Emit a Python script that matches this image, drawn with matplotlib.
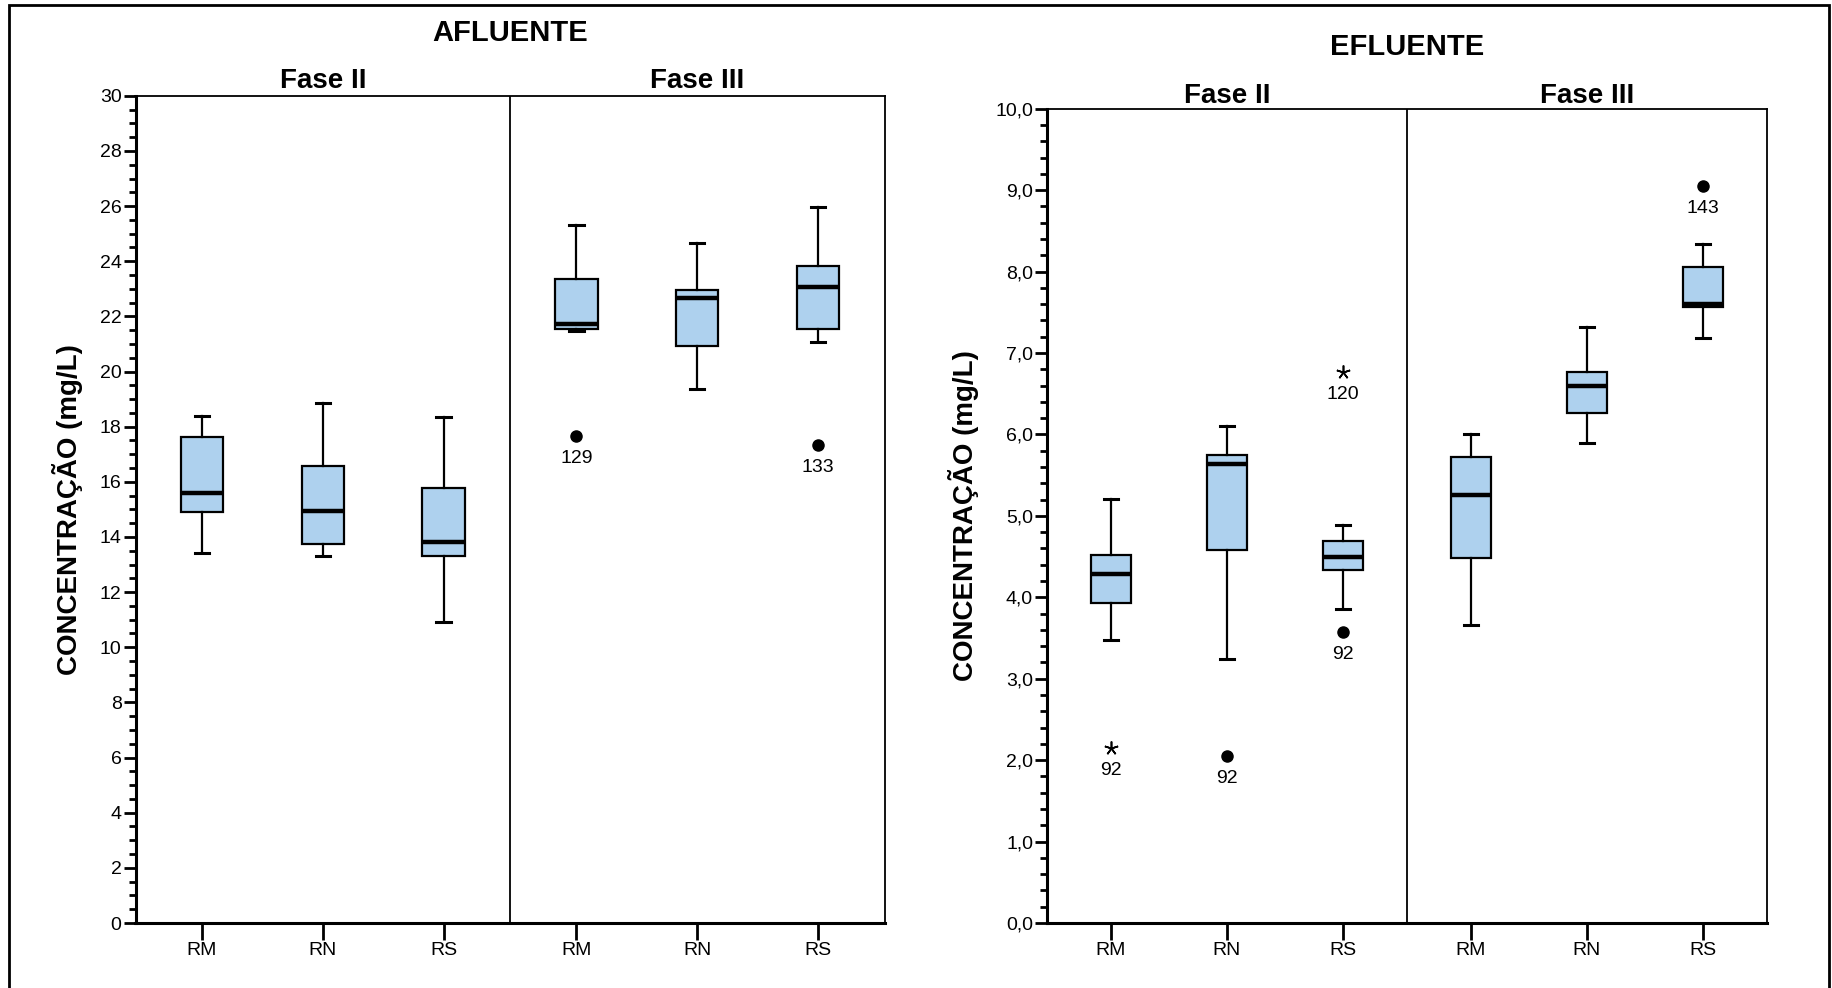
import matplotlib
matplotlib.use("Agg")
import matplotlib.pyplot as plt
from matplotlib import font_manager
from matplotlib.patches import Rectangle
import numpy as np

names = {f.name for f in font_manager.fontManager.ttflist}
NARROW = "Liberation Sans Narrow" if "Liberation Sans Narrow" in names else "Liberation Sans"
WIDE = "Liberation Sans"

categories = ["RM", "RN", "RS", "RM", "RN", "RS"]
phases = ["Fase II", "Fase III"]

# AFLUENTE stats: (low whisker, Q1, median, Q3, high whisker)
afl_low = [13.43, 13.31, 10.93, 21.48, 19.36, 21.06]
afl_q1 = [14.92, 13.73, 13.31, 21.53, 20.93, 21.53]
afl_med = [15.59, 14.96, 13.81, 21.74, 22.67, 23.05]
afl_q3 = [17.63, 16.57, 15.76, 23.35, 22.97, 23.81]
afl_high = [18.39, 18.86, 18.35, 25.30, 24.66, 25.97]
afl_out_idx = [3, 5]
afl_out_val = [17.67, 17.33]
afl_out_lab = ["129", "133"]
afl_out_kind = ["o", "o"]

# EFLUENTE stats
efl_low = [3.47, 3.24, 3.86, 3.66, 5.90, 7.19]
efl_q1 = [3.93, 4.58, 4.33, 4.48, 6.26, 7.56]
efl_med = [4.28, 5.64, 4.49, 5.25, 6.59, 7.60]
efl_q3 = [4.52, 5.75, 4.69, 5.72, 6.77, 8.06]
efl_high = [5.21, 6.10, 4.89, 6.00, 7.32, 8.34]
efl_out_idx = [0, 1, 2, 2, 5]
efl_out_val = [2.15, 2.05, 3.57, 6.77, 9.05]
efl_out_lab = ["92", "92", "92", "120", "143"]
efl_out_kind = ["*", "o", "o", "*", "o"]

BOX_COLOR = "#AED1EE"

# layout: each phase group holds 3 categories with a gap between groups
GROUP_GAP = 0.1
positions = np.array([i + (GROUP_GAP if i >= 3 else 0.0) for i in range(len(categories))])
XMIN, XMAX = -0.55, positions[-1] + 0.55
DIVIDER = 2.5 + GROUP_GAP / 2

fig = plt.figure(figsize=(18.32, 9.88), dpi=100)
W, H = 1832, 988

def px_axes(x0, y0, x1, y1):
    return fig.add_axes([x0 / W, 1 - y1 / H, (x1 - x0) / W, (y1 - y0) / H])

def draw_panel(ax, low, q1, med, q3, high, oidx, oval, olab, okind, ymax, major, minor, fmt,
               title, title_y, phase_y):
    stats = []
    for i in range(len(categories)):
        stats.append(dict(whislo=low[i], q1=q1[i], med=med[i], q3=q3[i], whishi=high[i], fliers=[]))
    ax.bxp(stats, positions=positions, widths=0.35, patch_artist=True,
           showfliers=False,
           boxprops=dict(facecolor=BOX_COLOR, edgecolor="black", linewidth=1.6),
           medianprops=dict(color="black", linewidth=3.2),
           whiskerprops=dict(color="black", linewidth=1.6),
           capprops=dict(color="black", linewidth=2.2),
           capwidths=0.12)
    for i, v, l, k in zip(oidx, oval, olab, okind):
        p = positions[i]
        if k == "o":
            ax.plot(p, v, "o", color="black", markersize=8)
        else:
            ax.plot(p, v, marker=(5, 2, 0), color="black", markersize=10, markeredgewidth=1.2)
        ax.annotate(l, (p, v), xytext=(0, -10), textcoords="offset points", ha="center", va="top",
                    fontsize=14, family=NARROW)
    ax.set_xlim(XMIN, XMAX)
    ax.set_ylim(0, ymax)
    ax.axvline(DIVIDER, color="black", linewidth=1.3)
    ax.set_xticks(positions)
    ax.set_xticklabels(categories, family=NARROW, fontsize=14)
    ax.set_yticks(np.arange(0, ymax + 1e-9, major))
    ax.set_yticks(np.arange(0, ymax + 1e-9, minor), minor=True)
    ax.set_yticklabels([fmt(v) for v in np.arange(0, ymax + 1e-9, major)], family=NARROW, fontsize=14)
    ax.tick_params(axis="y", which="major", length=9, width=2.0, pad=1)
    ax.tick_params(axis="y", which="minor", length=5, width=2.0)
    ax.tick_params(axis="x", which="major", length=12, width=2.0, pad=2)
    for s in ax.spines.values():
        s.set_linewidth(1.3)
    ax.spines["left"].set_linewidth(2.2)
    ax.spines["bottom"].set_linewidth(2.2)
    ax.set_ylabel("CONCENTRAÇÃO (mg/L)", family=WIDE, fontweight="bold", fontsize=20, labelpad=12)
    # phase titles
    ax.text(positions[1], phase_y, phases[0], transform=ax.get_xaxis_transform(), ha="center",
            va="center", fontsize=20, fontweight="bold", family=NARROW)
    ax.text(positions[4], phase_y, phases[1], transform=ax.get_xaxis_transform(), ha="center",
            va="center", fontsize=20, fontweight="bold", family=NARROW)
    ax.text(0.5, title_y, title, transform=ax.transAxes, ha="center", va="center",
            fontsize=21, fontweight="bold", family=NARROW)

ax1 = px_axes(135.5, 95.8, 884.5, 923)
draw_panel(ax1, afl_low, afl_q1, afl_med, afl_q3, afl_high, afl_out_idx, afl_out_val, afl_out_lab,
           afl_out_kind, 30, 2, 0.5, lambda v: f"{int(round(v))}", "AFLUENTE", 1.076, 1.018)

ax2 = px_axes(1047, 108.7, 1767, 923)
draw_panel(ax2, efl_low, efl_q1, efl_med, efl_q3, efl_high, efl_out_idx, efl_out_val, efl_out_lab,
           efl_out_kind, 10, 1, 0.2, lambda v: f"{v:.1f}".replace(".", ","), "EFLUENTE", 1.076, 1.016)

# outer frame
fig.patches.append(Rectangle((9 / W, -0.05), (1829 - 9) / W, 1.05 - 5 / H, transform=fig.transFigure,
                             fill=False, edgecolor="black", linewidth=2.0, zorder=10))

fig.savefig("out.png", dpi=100)
